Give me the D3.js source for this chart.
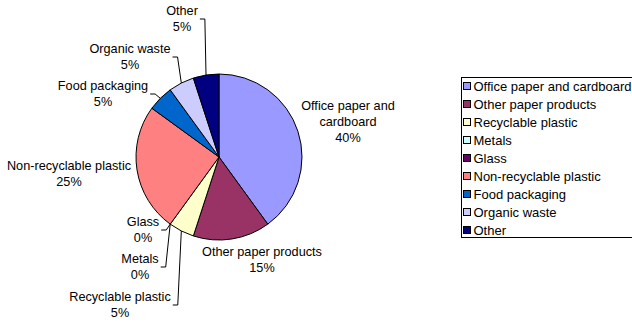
<!DOCTYPE html>
<html>
<head>
<meta charset="utf-8">
<script src="https://cdn.jsdelivr.net/npm/d3@7"></script>
<style>
  body { margin: 0; background: #fff; }
  text { font-family: Arial, "Liberation Sans", sans-serif; }
</style>
</head>
<body>
<div id="chart"></div>
<script>
// Data
const categories = ["Office paper and cardboard", "Other paper products", "Recyclable plastic",
  "Metals", "Glass", "Non-recyclable plastic", "Food packaging", "Organic waste", "Other"];
const values = [40, 15, 5, 0, 0, 25, 5, 5, 5];
const colors = ["#9999FF", "#993366", "#FFFFCC", "#CCFFFF", "#660066", "#FF8080", "#0066CC", "#CCCCFF", "#000080"];
// label lines as shown on the chart
const labelNames = [["Office paper and", "cardboard"], ["Other paper products"], ["Recyclable plastic"],
  ["Metals"], ["Glass"], ["Non-recyclable plastic"], ["Food packaging"], ["Organic waste"], ["Other"]];

// Layout
const width = 632, height = 325;
const cx = 219, cy = 157, radius = 83;
// label block centres (layout only) and whether a leader line is drawn
const labelLayout = [
  { x: 348, y: 122, leader: false },
  { x: 262, y: 260, leader: false },
  { x: 120, y: 305, leader: true },
  { x: 140, y: 267, leader: true },
  { x: 143, y: 230, leader: true },
  { x: 69,  y: 174, leader: false },
  { x: 103, y: 94,  leader: true },
  { x: 130, y: 57,  leader: true },
  { x: 182, y: 19,  leader: true }
];
const lineH = 16;
const labelFont = "12.7px";
const legendFont = "13px";

const data = categories.map((c, i) => ({ name: c, value: values[i], color: colors[i], lines: labelNames[i], pos: labelLayout[i] }));

const svg = d3.select("#chart").append("svg")
  .attr("width", width).attr("height", height);

const pie = d3.pie().value(d => d.value).sort(null);
const arcs = pie(data);
const arc = d3.arc().innerRadius(0).outerRadius(radius);

const g = svg.append("g").attr("transform", `translate(${cx},${cy})`);

g.selectAll("path.slice")
  .data(arcs.filter(d => d.data.value > 0))
  .join("path")
  .attr("class", "slice")
  .attr("d", arc)
  .attr("fill", d => d.data.color)
  .attr("stroke", "#000")
  .attr("stroke-width", 1);

// Labels
const total = d3.sum(values);
const fmt = d3.format(".0%");
const labels = svg.selectAll("g.label")
  .data(arcs)
  .join("g")
  .attr("class", "label");

labels.each(function(d) {
  const grp = d3.select(this);
  const lines = d.data.lines.concat([fmt(d.data.value / total)]);
  const top = d.data.pos.y - (lines.length - 1) * lineH / 2;
  let maxW = 0;
  lines.forEach((t, k) => {
    const txt = grp.append("text")
      .attr("x", d.data.pos.x)
      .attr("y", top + k * lineH)
      .attr("dy", "0.35em")
      .attr("text-anchor", "middle")
      .attr("font-size", labelFont)
      .attr("fill", "#000")
      .text(t);
    maxW = Math.max(maxW, txt.node().getComputedTextLength());
  });
  if (d.data.pos.leader) {
    const mid = (d.startAngle + d.endAngle) / 2;
    const ax = cx + radius * Math.sin(mid);
    const ay = cy - radius * Math.cos(mid);
    const sx = d.data.pos.x + maxW / 2 + 2;
    const sy = d.data.pos.y;
    grp.append("path")
      .attr("d", d3.line()([[sx, sy], [sx + 5, sy], [ax, ay]]))
      .attr("fill", "none")
      .attr("stroke", "#000")
      .attr("stroke-width", 1);
  }
});

// Legend
const legend = svg.append("g").attr("transform", "translate(461.5,77.5)");
legend.append("rect")
  .attr("width", 190).attr("height", 160)
  .attr("fill", "#fff").attr("stroke", "#000");

const items = legend.selectAll("g.item")
  .data(data)
  .join("g")
  .attr("class", "item")
  .attr("transform", (d, i) => `translate(2,${9 + i * 18})`);

items.append("rect")
  .attr("x", 0).attr("y", -4)
  .attr("width", 7).attr("height", 7)
  .attr("fill", d => d.color)
  .attr("stroke", "#000");

items.append("text")
  .attr("x", 10).attr("y", 0)
  .attr("dy", "0.35em")
  .attr("font-size", legendFont)
  .text(d => d.name);
</script>
</body>
</html>
